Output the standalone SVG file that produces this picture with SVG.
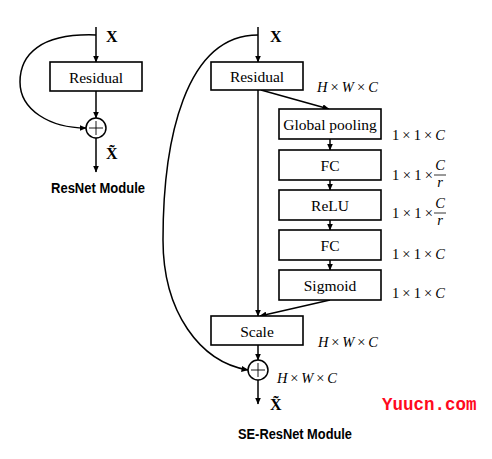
<svg xmlns="http://www.w3.org/2000/svg" width="492" height="459" viewBox="0 0 492 459">
<defs>
<marker id="ah" markerWidth="7" markerHeight="6" refX="6.5" refY="3" orient="auto" markerUnits="userSpaceOnUse">
<path d="M0,0 L7,3 L0,6 Z" fill="#000"/>
</marker>
<style>
.box{fill:#fff;stroke:#000;stroke-width:1.6}
.ln{fill:none;stroke:#000;stroke-width:1.5}
.lbl{font-family:"Liberation Serif",serif;font-size:15.5px;text-anchor:middle;dominant-baseline:central}
.bx{font-family:"Liberation Serif",serif;font-size:16px;font-weight:bold}
.dim{font-family:"Liberation Serif",serif;font-size:14.5px}
.it{font-style:italic}
.cap{font-family:"Liberation Sans",sans-serif;font-size:14px;font-weight:bold}
</style>
</defs>
<rect width="492" height="459" fill="#fff"/>

<g id="connectors">
<!-- left module -->
<line class="ln" x1="96" y1="27" x2="96" y2="62" marker-end="url(#ah)"/>
<line class="ln" x1="96" y1="91" x2="96" y2="118" marker-end="url(#ah)"/>
<line class="ln" x1="96" y1="138" x2="96" y2="172" marker-end="url(#ah)"/>
<path class="ln" d="M96,35 C40,33 20,55 20,82 C20,110 50,128 86,128" marker-end="url(#ah)"/>
<!-- right module -->
<line class="ln" x1="258" y1="27" x2="258" y2="62" marker-end="url(#ah)"/>
<line class="ln" x1="258" y1="90" x2="258" y2="316" marker-end="url(#ah)"/>
<line class="ln" x1="261" y1="90" x2="329" y2="109" marker-end="url(#ah)"/>
<line class="ln" x1="330" y1="139" x2="330" y2="150" marker-end="url(#ah)"/>
<line class="ln" x1="330" y1="180" x2="330" y2="190" marker-end="url(#ah)"/>
<line class="ln" x1="330" y1="220" x2="330" y2="230" marker-end="url(#ah)"/>
<line class="ln" x1="330" y1="260" x2="330" y2="270" marker-end="url(#ah)"/>
<line class="ln" x1="330" y1="300" x2="260" y2="316" marker-end="url(#ah)"/>
<line class="ln" x1="258" y1="345" x2="258" y2="360" marker-end="url(#ah)"/>
<line class="ln" x1="258" y1="380" x2="258" y2="404" marker-end="url(#ah)"/>
<path class="ln" d="M258,35 C185,35 163,140 163,240 C163,312 200,362 248,370" marker-end="url(#ah)"/>
</g>

<g id="left-residual">
<rect class="box" x="50" y="62" width="92" height="29"/>
<text class="lbl" x="96" y="77">Residual</text>
</g>
<g id="left-sum">
<circle cx="96" cy="128" r="10" fill="#fff" stroke="#000" stroke-width="1.5"/>
<path d="M89,128 H103 M96,121 V135" stroke="#000" stroke-width="0.9"/>
</g>
<g id="left-labels">
<text class="bx" x="106" y="42">X</text>
<text class="bx" x="106" y="159">X̃</text>
<text class="cap" x="51" y="193" textLength="94" lengthAdjust="spacingAndGlyphs">ResNet Module</text>
</g>

<g id="right-residual">
<rect class="box" x="211" y="62" width="92" height="28"/>
<text class="lbl" x="257" y="76">Residual</text>
</g>
<g id="global-pooling">
<rect class="box" x="279" y="109" width="102" height="30"/>
<text class="lbl" x="330" y="124">Global pooling</text>
</g>
<g id="fc1">
<rect class="box" x="279" y="150" width="102" height="30"/>
<text class="lbl" x="330" y="165">FC</text>
</g>
<g id="relu">
<rect class="box" x="279" y="190" width="102" height="30"/>
<text class="lbl" x="330" y="205">ReLU</text>
</g>
<g id="fc2">
<rect class="box" x="279" y="230" width="102" height="30"/>
<text class="lbl" x="330" y="245">FC</text>
</g>
<g id="sigmoid">
<rect class="box" x="279" y="270" width="102" height="30"/>
<text class="lbl" x="330" y="285">Sigmoid</text>
</g>
<g id="scale">
<rect class="box" x="211" y="316" width="92" height="29"/>
<text class="lbl" x="257" y="331">Scale</text>
</g>
<g id="right-sum">
<circle cx="258" cy="370" r="10" fill="#fff" stroke="#000" stroke-width="1.5"/>
<path d="M251,370 H265 M258,363 V377" stroke="#000" stroke-width="0.9"/>
</g>

<g id="right-labels">
<text class="bx" x="270" y="42">X</text>
<text class="bx" x="270" y="410">X̃</text>
<text class="dim" x="317" y="92" textLength="61" lengthAdjust="spacing"><tspan class="it">H</tspan> × <tspan class="it">W</tspan> × <tspan class="it">C</tspan></text>
<text class="dim" x="392" y="140" textLength="53" lengthAdjust="spacing">1 × 1 × <tspan class="it">C</tspan></text>
<text class="dim" x="392" y="180" textLength="41" lengthAdjust="spacing">1 × 1 ×</text>
<text class="dim it" x="440" y="170" text-anchor="middle">C</text>
<line x1="434" y1="175" x2="446" y2="175" stroke="#000" stroke-width="0.8"/>
<text class="dim it" x="440" y="187" text-anchor="middle">r</text>
<text class="dim" x="392" y="218" textLength="41" lengthAdjust="spacing">1 × 1 ×</text>
<text class="dim it" x="440" y="208" text-anchor="middle">C</text>
<line x1="434" y1="213" x2="446" y2="213" stroke="#000" stroke-width="0.8"/>
<text class="dim it" x="440" y="225" text-anchor="middle">r</text>
<text class="dim" x="392" y="259" textLength="53" lengthAdjust="spacing">1 × 1 × <tspan class="it">C</tspan></text>
<text class="dim" x="392" y="298" textLength="53" lengthAdjust="spacing">1 × 1 × <tspan class="it">C</tspan></text>
<text class="dim" x="318" y="347" textLength="60" lengthAdjust="spacing"><tspan class="it">H</tspan> × <tspan class="it">W</tspan> × <tspan class="it">C</tspan></text>
<text class="dim" x="277" y="383" textLength="60" lengthAdjust="spacing"><tspan class="it">H</tspan> × <tspan class="it">W</tspan> × <tspan class="it">C</tspan></text>
<text class="cap" x="238" y="439" textLength="114" lengthAdjust="spacingAndGlyphs">SE-ResNet Module</text>
</g>

<g id="watermark">
<text x="382" y="410" font-family="'Liberation Mono',monospace" font-size="17.5" font-weight="bold" fill="#ff0a1e">Yuucn.com</text>
</g>
</svg>
